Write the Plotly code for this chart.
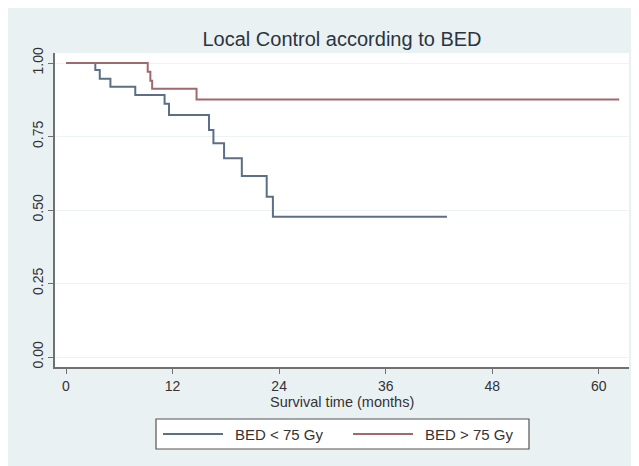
import plotly.graph_objects as go

# ---- data ----
series_names = ["BED < 75 Gy", "BED > 75 Gy"]
low_time = [0, 3.3, 3.8, 5.0, 7.8, 11.1, 11.6, 16.1, 16.6, 17.8, 19.8, 22.6, 23.3, 42.9]
low_surv = [1.0, 0.976, 0.946, 0.919, 0.891, 0.861, 0.823, 0.772, 0.727, 0.676, 0.616, 0.545, 0.477, 0.477]
high_time = [0, 9.2, 9.5, 9.7, 14.7, 62.3]
high_surv = [1.0, 0.97, 0.94, 0.912, 0.876, 0.876]
x_ticks = [0, 12, 24, 36, 48, 60]
y_ticks = [0.0, 0.25, 0.5, 0.75, 1.0]
y_tick_labels = ["0.00", "0.25", "0.50", "0.75", "1.00"]
title_text = "Local Control according to BED"
x_title = "Survival time (months)"

# ---- style ----
W, H = 639, 466
OFF = 8  # page body margin in the screenshot
ML, MR, MT, MB = 47, 18, 45, 107
PW, PH = W - ML - MR, H - MT - MB
BLUE = "#5b6f86"
RED = "#a0696e"
BG = "#eaf1f3"
AXIS = "#707070"
FONT = "Liberation Sans, Arial, sans-serif"


def px_x(p):
    return (p - OFF - ML) / PW


def px_y(p):
    return (H - MB - (p - OFF)) / PH


fig = go.Figure()
fig.add_trace(go.Scatter(x=low_time, y=low_surv, mode="lines", line_shape="hv",
                         line=dict(color=BLUE, width=2), name=series_names[0], showlegend=False))
fig.add_trace(go.Scatter(x=high_time, y=high_surv, mode="lines", line_shape="hv",
                         line=dict(color=RED, width=2), name=series_names[1], showlegend=False))

shapes = [
    # legend box
    dict(type="rect", xref="paper", yref="paper", x0=px_x(156), x1=px_x(529), y0=px_y(449), y1=px_y(419),
         fillcolor="white", line=dict(color="#555555", width=1.2)),
    dict(type="line", xref="paper", yref="paper", x0=px_x(163), x1=px_x(223), y0=px_y(434), y1=px_y(434),
         line=dict(color=BLUE, width=2)),
    dict(type="line", xref="paper", yref="paper", x0=px_x(353), x1=px_x(413), y0=px_y(434), y1=px_y(434),
         line=dict(color=RED, width=2)),
]

annotations = [
    dict(text=series_names[0], xref="paper", yref="paper", x=px_x(233), y=px_y(434),
         xanchor="left", yanchor="middle", showarrow=False, font=dict(size=15, color="#333333", family=FONT)),
    dict(text=series_names[1], xref="paper", yref="paper", x=px_x(423), y=px_y(434),
         xanchor="left", yanchor="middle", showarrow=False, font=dict(size=15, color="#333333", family=FONT)),
    dict(text=x_title, xref="paper", yref="paper", x=0.5, y=px_y(402),
         xanchor="center", yanchor="middle", showarrow=False, font=dict(size=14.5, color="#333333", family=FONT)),
]

fig.update_layout(
    width=W, height=H,
    margin=dict(l=ML, r=MR, t=MT, b=MB, pad=0, autoexpand=False),
    paper_bgcolor=BG, plot_bgcolor="white",
    font=dict(family=FONT, color="#333333"),
    title=dict(text=title_text, x=0.5, xref="paper", xanchor="center",
               y=1 - (39 - OFF) / H, yanchor="middle", font=dict(size=20, color="#2b3440", family=FONT)),
    shapes=shapes, annotations=annotations, showlegend=False,
)
fig.update_xaxes(range=[-1.24, 63.4], tickvals=x_ticks, ticks="outside", ticklen=5, tickcolor=AXIS,
                 showline=True, linecolor=AXIS, linewidth=1.5, showgrid=False, zeroline=False,
                 automargin=False, tickfont=dict(size=14, color="#333333"))
fig.update_yaxes(range=[-0.034, 1.034], tickvals=y_ticks, ticktext=y_tick_labels, ticks="outside",
                 ticklen=5, tickcolor=AXIS, tickangle=-90, showline=True, linecolor=AXIS, linewidth=1.5,
                 showgrid=True, gridcolor="#edf2f4", gridwidth=1, zeroline=False, automargin=False,
                 tickfont=dict(size=14, color="#333333"))

fig.write_html("out.html")
